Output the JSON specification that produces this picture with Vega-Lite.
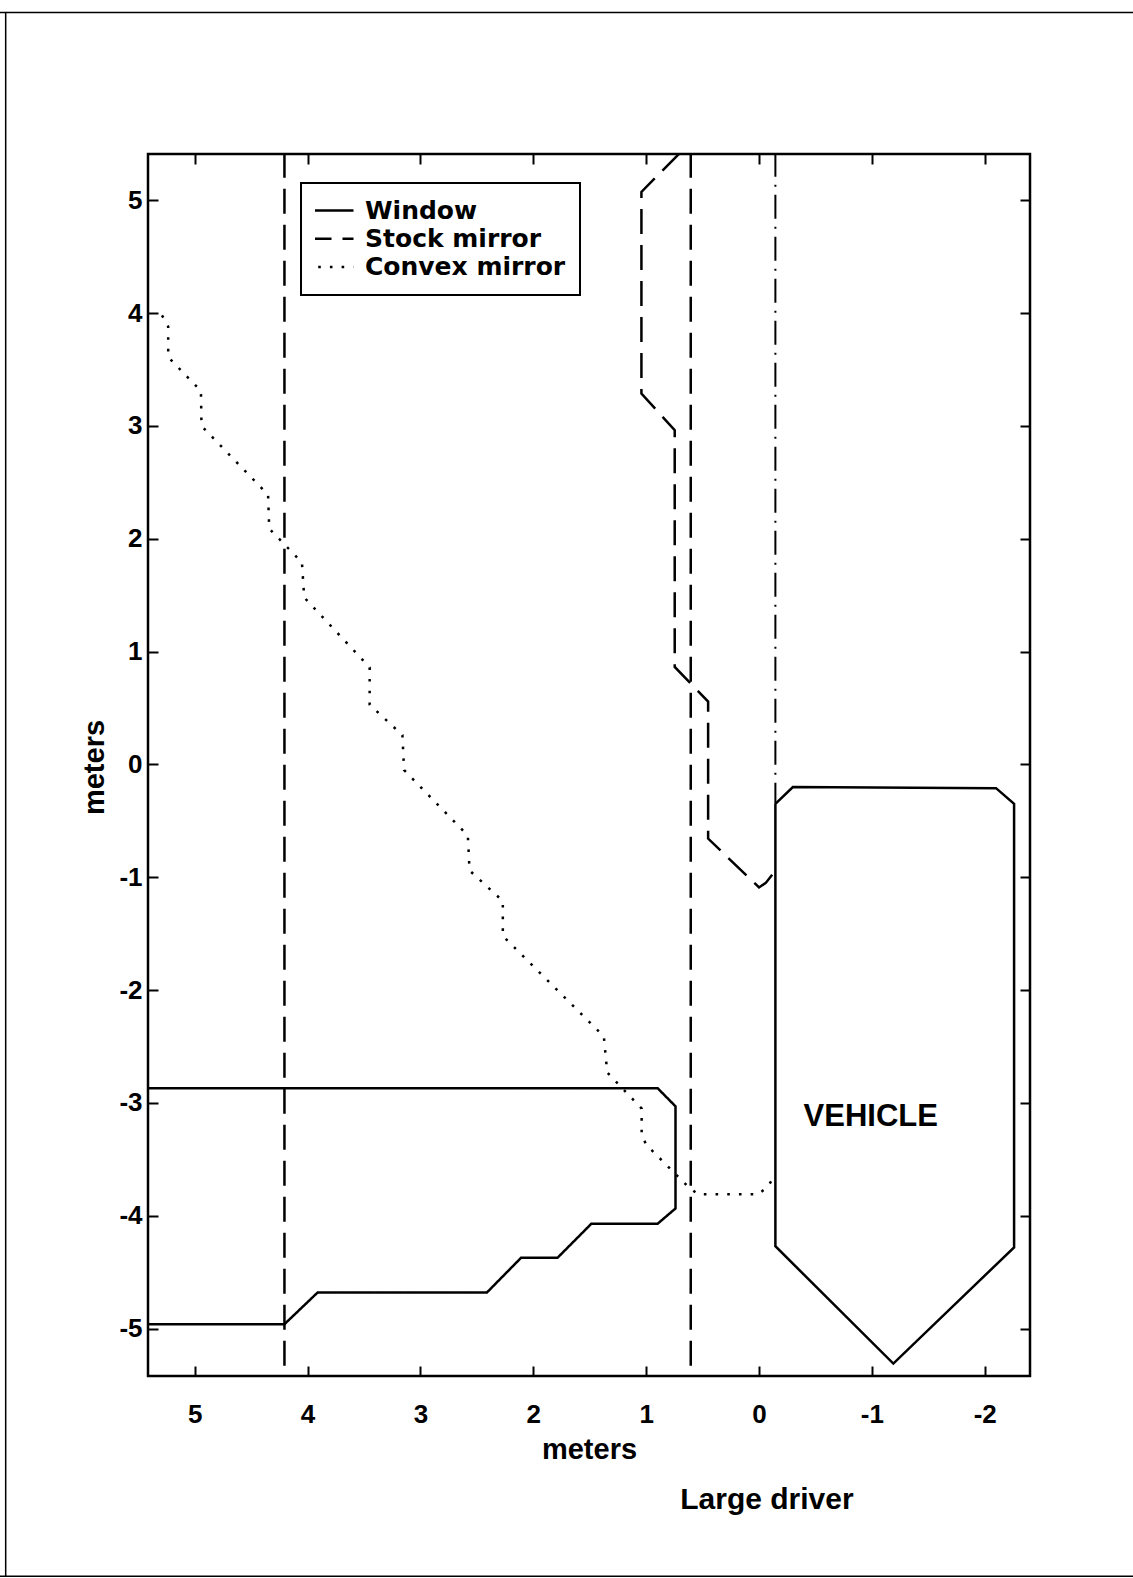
{
  "$schema": "https://vega.github.io/schema/vega-lite/v6.json",
  "width": 882,
  "height": 1222,
  "autosize": {"type": "none"},
  "padding": {"left": 148, "top": 154, "right": 103, "bottom": 202},
  "background": "white",
  "config": {
    "view": {"stroke": "black", "strokeWidth": 2.5},
    "axis": {
      "domain": false, "grid": false,
      "tickColor": "black", "tickWidth": 2, "tickSize": -10,
      "labelFont": "Liberation Sans", "labelFontWeight": "bold", "labelFontSize": 26, "labelColor": "black",
      "titleFont": "Liberation Sans", "titleFontWeight": "bold", "titleFontSize": 29, "titleColor": "black"
    }
  },
  "datasets": {
    "lines": [
      {"series": "Window", "seg": "w", "ord": 1, "x": 5.42, "y": -2.87},
      {"series": "Window", "seg": "w", "ord": 2, "x": 0.898, "y": -2.87},
      {"series": "Window", "seg": "w", "ord": 3, "x": 0.74, "y": -3.03},
      {"series": "Window", "seg": "w", "ord": 4, "x": 0.74, "y": -3.935},
      {"series": "Window", "seg": "w", "ord": 5, "x": 0.898, "y": -4.07},
      {"series": "Window", "seg": "w", "ord": 6, "x": 1.485, "y": -4.07},
      {"series": "Window", "seg": "w", "ord": 7, "x": 1.786, "y": -4.373},
      {"series": "Window", "seg": "w", "ord": 8, "x": 2.109, "y": -4.373},
      {"series": "Window", "seg": "w", "ord": 9, "x": 2.41, "y": -4.679},
      {"series": "Window", "seg": "w", "ord": 10, "x": 3.91, "y": -4.679},
      {"series": "Window", "seg": "w", "ord": 11, "x": 4.205, "y": -4.961},
      {"series": "Window", "seg": "w", "ord": 12, "x": 5.42, "y": -4.961},
      {"series": "Stock mirror", "seg": "s1", "ord": 1, "x": 4.205, "y": 5.42},
      {"series": "Stock mirror", "seg": "s1", "ord": 2, "x": 4.205, "y": -5.43},
      {"series": "Stock mirror", "seg": "s2", "ord": 1, "x": 0.605, "y": 5.42},
      {"series": "Stock mirror", "seg": "s2", "ord": 2, "x": 0.605, "y": -5.43},
      {"series": "Stock mirror", "seg": "s3", "ord": 1, "x": 0.70, "y": 5.42},
      {"series": "Stock mirror", "seg": "s3", "ord": 2, "x": 1.042, "y": 5.074},
      {"series": "Stock mirror", "seg": "s3", "ord": 3, "x": 1.042, "y": 3.287},
      {"series": "Stock mirror", "seg": "s3", "ord": 4, "x": 0.747, "y": 2.962},
      {"series": "Stock mirror", "seg": "s3", "ord": 5, "x": 0.747, "y": 0.864},
      {"series": "Stock mirror", "seg": "s3", "ord": 6, "x": 0.451, "y": 0.557},
      {"series": "Stock mirror", "seg": "s3", "ord": 7, "x": 0.451, "y": -0.657},
      {"series": "Stock mirror", "seg": "s3", "ord": 8, "x": 0.0, "y": -1.09},
      {"series": "Stock mirror", "seg": "s3", "ord": 9, "x": -0.06, "y": -1.05},
      {"series": "Stock mirror", "seg": "s3", "ord": 10, "x": -0.145, "y": -0.94},
      {"series": "Convex mirror", "seg": "c", "ord": 1, "x": 5.29, "y": 3.98},
      {"series": "Convex mirror", "seg": "c", "ord": 2, "x": 5.235, "y": 3.88},
      {"series": "Convex mirror", "seg": "c", "ord": 3, "x": 5.235, "y": 3.61},
      {"series": "Convex mirror", "seg": "c", "ord": 4, "x": 4.945, "y": 3.31},
      {"series": "Convex mirror", "seg": "c", "ord": 5, "x": 4.94, "y": 3.0},
      {"series": "Convex mirror", "seg": "c", "ord": 6, "x": 4.35, "y": 2.39},
      {"series": "Convex mirror", "seg": "c", "ord": 7, "x": 4.34, "y": 2.09},
      {"series": "Convex mirror", "seg": "c", "ord": 8, "x": 4.05, "y": 1.79},
      {"series": "Convex mirror", "seg": "c", "ord": 9, "x": 4.03, "y": 1.48},
      {"series": "Convex mirror", "seg": "c", "ord": 10, "x": 3.45, "y": 0.86},
      {"series": "Convex mirror", "seg": "c", "ord": 11, "x": 3.45, "y": 0.53},
      {"series": "Convex mirror", "seg": "c", "ord": 12, "x": 3.16, "y": 0.26},
      {"series": "Convex mirror", "seg": "c", "ord": 13, "x": 3.145, "y": -0.05},
      {"series": "Convex mirror", "seg": "c", "ord": 14, "x": 2.58, "y": -0.63},
      {"series": "Convex mirror", "seg": "c", "ord": 15, "x": 2.565, "y": -0.94},
      {"series": "Convex mirror", "seg": "c", "ord": 16, "x": 2.27, "y": -1.21},
      {"series": "Convex mirror", "seg": "c", "ord": 17, "x": 2.27, "y": -1.52},
      {"series": "Convex mirror", "seg": "c", "ord": 18, "x": 1.375, "y": -2.41},
      {"series": "Convex mirror", "seg": "c", "ord": 19, "x": 1.345, "y": -2.73},
      {"series": "Convex mirror", "seg": "c", "ord": 20, "x": 1.04, "y": -3.05},
      {"series": "Convex mirror", "seg": "c", "ord": 21, "x": 1.04, "y": -3.28},
      {"series": "Convex mirror", "seg": "c", "ord": 22, "x": 1.0, "y": -3.37},
      {"series": "Convex mirror", "seg": "c", "ord": 23, "x": 0.62, "y": -3.75},
      {"series": "Convex mirror", "seg": "c", "ord": 24, "x": 0.54, "y": -3.81},
      {"series": "Convex mirror", "seg": "c", "ord": 25, "x": 0.01, "y": -3.81},
      {"series": "Convex mirror", "seg": "c", "ord": 26, "x": -0.07, "y": -3.75},
      {"series": "Convex mirror", "seg": "c", "ord": 27, "x": -0.145, "y": -3.64}
    ],
    "vehicle": [
      {"ord": 1, "x": -0.145, "y": -0.35},
      {"ord": 2, "x": -0.30, "y": -0.20},
      {"ord": 3, "x": -2.10, "y": -0.21},
      {"ord": 4, "x": -2.26, "y": -0.35},
      {"ord": 5, "x": -2.26, "y": -4.28},
      {"ord": 6, "x": -1.19, "y": -5.31},
      {"ord": 7, "x": -0.145, "y": -4.27},
      {"ord": 8, "x": -0.145, "y": -0.35}
    ],
    "eyeline": [
      {"ord": 1, "x": -0.145, "y": 5.42},
      {"ord": 2, "x": -0.145, "y": -0.35}
    ],
    "labels": [
      {"label": "VEHICLE", "x": -0.99, "y": -3.2, "size": "big"},
      {"label": "Large driver", "x": -0.07, "y": -6.6, "size": "normal"}
    ],
    "page": [
      {"edge": "top", "x": 6.73, "x2": -3.32, "y": 6.665, "y2": 6.665},
      {"edge": "left", "x": 6.675, "x2": 6.675, "y": 6.665, "y2": -7.195},
      {"edge": "bottom", "x": 6.73, "x2": -3.32, "y": -7.195, "y2": -7.195}
    ]
  },
  "layer": [
    {
      "data": {"name": "lines"},
      "mark": {"type": "line", "color": "black", "clip": true},
      "encoding": {
        "x": {"field": "x", "type": "quantitative", "scale": {"domain": [-2.401, 5.414], "reverse": true, "nice": false, "zero": false},
              "axis": {"orient": "bottom", "values": [-2, -1, 0, 1, 2, 3, 4, 5], "labelExpr": "'' + datum.value", "labelPadding": 35, "title": "meters", "titleY": 82, "titleBaseline": "alphabetic"}},
        "y": {"field": "y", "type": "quantitative", "scale": {"domain": [-5.42, 5.41], "nice": false, "zero": false},
              "axis": {"orient": "left", "values": [-5, -4, -3, -2, -1, 0, 1, 2, 3, 4, 5], "labelExpr": "'' + datum.value", "labelPadding": 16, "title": "meters", "titleX": -45, "titleY": 613, "titleAngle": 270, "titleBaseline": "alphabetic", "titleAlign": "center"}},
        "strokeDash": {"field": "series", "type": "nominal",
          "scale": {"domain": ["Window", "Stock mirror", "Convex mirror"], "range": [[1, 0], [25, 11], [2.6, 9.1]]},
          "legend": {"orient": "none", "legendX": 153, "legendY": 29, "title": null, "direction": "vertical",
            "symbolType": "stroke", "symbolSize": 2209, "symbolStrokeWidth": 2.5, "symbolStrokeColor": "black", "symbolOffset": -10,
            "clipHeight": 27, "rowPadding": 1.3,
            "labelFont": "DejaVu Sans", "labelFontSize": 25, "labelFontWeight": "bold", "labelColor": "black", "labelOffset": 10, "labelLimit": 500, "labelBaseline": "middle",
            "padding": 14, "strokeColor": "black", "fillColor": "white",
            "encode": {"legend": {"update": {"strokeWidth": {"value": 2}}}}}},
        "strokeWidth": {"field": "series", "type": "nominal",
          "scale": {"domain": ["Window", "Stock mirror", "Convex mirror"], "range": [2.5, 2.5, 3]}, "legend": null},
        "detail": {"field": "seg"},
        "order": {"field": "ord", "type": "quantitative"}
      }
    },
    {
      "data": {"name": "vehicle"},
      "mark": {"type": "line", "color": "black", "strokeWidth": 2.5, "clip": true},
      "encoding": {
        "x": {"field": "x", "type": "quantitative", "scale": {"domain": [-2.401, 5.414], "reverse": true, "nice": false, "zero": false},
              "axis": {"orient": "top", "values": [-2, -1, 0, 1, 2, 3, 4, 5], "labels": false, "title": null}},
        "y": {"field": "y", "type": "quantitative", "scale": {"domain": [-5.42, 5.41], "nice": false, "zero": false},
              "axis": {"orient": "right", "values": [-5, -4, -3, -2, -1, 0, 1, 2, 3, 4, 5], "labels": false, "title": null}},
        "order": {"field": "ord", "type": "quantitative"}
      }
    },
    {
      "data": {"name": "eyeline"},
      "mark": {"type": "line", "color": "black", "strokeWidth": 2, "strokeDash": [24, 8, 2, 8], "clip": true},
      "encoding": {
        "x": {"field": "x", "type": "quantitative", "scale": {"domain": [-2.401, 5.414], "reverse": true, "nice": false, "zero": false}, "axis": null},
        "y": {"field": "y", "type": "quantitative", "scale": {"domain": [-5.42, 5.41], "nice": false, "zero": false}, "axis": null},
        "order": {"field": "ord", "type": "quantitative"}
      }
    },
    {
      "data": {"name": "labels"},
      "mark": {"type": "text", "font": "Liberation Sans", "fontWeight": "bold", "color": "black", "align": "center", "baseline": "alphabetic", "clip": false},
      "encoding": {
        "x": {"field": "x", "type": "quantitative", "scale": {"domain": [-2.401, 5.414], "reverse": true, "nice": false, "zero": false}, "axis": null},
        "y": {"field": "y", "type": "quantitative", "scale": {"domain": [-5.42, 5.41], "nice": false, "zero": false}, "axis": null},
        "text": {"field": "label"},
        "size": {"field": "size", "type": "nominal", "scale": {"domain": ["big", "normal"], "range": [31, 30]}, "legend": null}
      }
    },
    {
      "data": {"name": "page"},
      "mark": {"type": "rule", "color": "black", "strokeWidth": 1.5, "clip": false},
      "encoding": {
        "x": {"field": "x", "type": "quantitative", "scale": {"domain": [-2.401, 5.414], "reverse": true, "nice": false, "zero": false}, "axis": null},
        "x2": {"field": "x2"},
        "y": {"field": "y", "type": "quantitative", "scale": {"domain": [-5.42, 5.41], "nice": false, "zero": false}, "axis": null},
        "y2": {"field": "y2"}
      }
    }
  ],
  "resolve": {"axis": {"x": "independent", "y": "independent"}}
}
